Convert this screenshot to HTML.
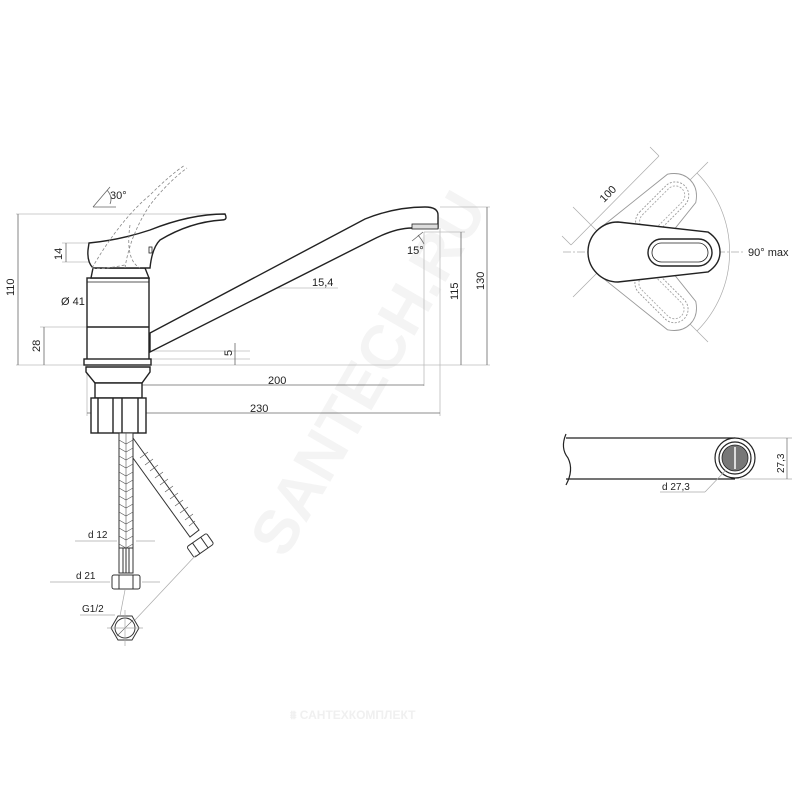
<!DOCTYPE html>
<html><head><meta charset="utf-8"><style>html,body{margin:0;padding:0;background:#fff}svg{display:block}</style></head>
<body>
<svg width="800" height="800" viewBox="0 0 800 800" xmlns="http://www.w3.org/2000/svg" font-family="Liberation Sans, sans-serif">
<defs>
<path id="lev" d="M618 222 L708 232 Q720 240 720 252 Q720 264 708 272 L618 282 A30 30 0 0 1 618 222 Z"/>
</defs>
<text x="0" y="0" font-size="62" font-weight="bold" fill="#f4f4f4" transform="translate(285,560) rotate(-60)">SANTECH.RU</text>
<text x="290" y="719" font-size="12" font-weight="bold" fill="#f0f0f0" font-family="Liberation Sans, DejaVu Sans, sans-serif">⩩ САНТЕХКОМПЛЕКТ</text>

<g fill="none" stroke="#bbb" stroke-width="0.8">
<line x1="16" y1="214" x2="225" y2="214"/>
<line x1="16" y1="365" x2="490" y2="365"/>
<line x1="440" y1="207" x2="490" y2="207"/>
<line x1="424" y1="232" x2="465" y2="232"/>
<line x1="424" y1="232" x2="424" y2="386"/>
<line x1="440" y1="228" x2="440" y2="416"/>
<line x1="87" y1="365" x2="87" y2="416"/>
<line x1="118" y1="367" x2="118" y2="390"/>
<line x1="40" y1="327" x2="90" y2="327"/>
<line x1="150" y1="351" x2="250" y2="351"/>
<line x1="150" y1="359" x2="250" y2="359"/>
<line x1="62" y1="243" x2="90" y2="243"/>
<line x1="62" y1="262" x2="90" y2="262"/>
<line x1="266" y1="288" x2="338" y2="288"/>
</g>
<g stroke="#666" stroke-width="0.8" fill="none">
<line x1="18" y1="214" x2="18" y2="365"/>
<line x1="487" y1="207" x2="487" y2="365"/>
<line x1="461" y1="232" x2="461" y2="365"/>
<line x1="44" y1="327" x2="44" y2="365"/>
<line x1="66" y1="243" x2="66" y2="262"/>
<line x1="88" y1="305" x2="148" y2="305"/>
<line x1="235" y1="343" x2="235" y2="365"/>
<line x1="125" y1="385" x2="424" y2="385"/>
<line x1="87" y1="413" x2="440" y2="413"/>
<line x1="258" y1="280" x2="264" y2="293"/>
</g>
<g font-size="11" fill="#222">
<text x="0" y="0" transform="translate(14,296) rotate(-90)">110</text>
<text x="0" y="0" transform="translate(40,352) rotate(-90)">28</text>
<text x="0" y="0" transform="translate(62,260) rotate(-90)">14</text>
<text x="0" y="0" transform="translate(232,356) rotate(-90)">5</text>
<text x="0" y="0" transform="translate(458,300) rotate(-90)">115</text>
<text x="0" y="0" transform="translate(484,290) rotate(-90)">130</text>
<text x="61" y="305">Ø 41</text>
<text x="312" y="286">15,4</text>
<text x="268" y="384">200</text>
<text x="250" y="412">230</text>
<text x="407" y="254">15°</text>
<text x="110" y="199">30°</text>
</g>
<g stroke="#666" stroke-width="0.8" fill="none">
<path d="M93 207 L110 187 M93 207 L116 207 M107 190 Q113 197 110 204"/>
<path d="M423 232 L412 241 M418 235 Q422 240 424 244"/>
</g>
<g stroke="#222" stroke-width="1.4" fill="#fff">
<path d="M150 333 L365 219 Q395 207 425 207 Q438 207 438 215 L438 228 L412 228 Q395 228 372 240 L150 352 Z"/>
<rect x="412" y="224" width="26" height="5" fill="#ddd" stroke-width="0.8"/>
<rect x="87" y="278" width="62" height="82"/>
<line x1="87" y1="327" x2="149" y2="327"/>
<line x1="87" y1="282" x2="149" y2="282" stroke-width="0.8"/>
<rect x="84" y="359" width="67" height="6"/>
<path d="M86 367 L150 367 L150 372 L142 383 L95 383 L86 372 Z"/>
<rect x="95" y="383" width="47" height="15"/>
<rect x="91" y="398" width="55" height="35"/>
<path d="M98 398 V433 M113 398 V433 M122 398 V433 M138 398 V433" fill="none"/>
<path d="M91 278 L93 268 L145 268 L149 278 Z"/>
<path d="M89 243 Q120 240 150 230 Q190 214 225 214 Q228 220 222 220 Q190 222 160 240 Q152 248 150 268 L93 268 Q87 262 88 250 Z"/>
<rect x="149" y="247" width="3" height="6" stroke-width="0.8"/>
</g>
<g stroke="#888" stroke-width="0.8" fill="none" stroke-dasharray="3,2">
<path d="M92 268 Q120 220 150 195 Q170 175 185 165"/>
<path d="M125 268 Q130 235 150 205 Q168 182 187 168"/>
<path d="M130 225 Q125 260 140 268"/>
<path d="M92 268 Q100 270 125 265"/>
</g>
<g stroke="#333" stroke-width="1" fill="#fff">
<rect x="119" y="433" width="14" height="115"/>
<path d="M119 548 h14 v25 h-14 z"/>
<path d="M123 548 v25 M126 548 v25 M129 548 v25" fill="none"/>
<path d="M133 438 L199 530 L190 537 L133 458 Z"/>
<rect x="112" y="575" width="28" height="14" rx="2"/>
<path d="M119 575 v14 M133 575 v14" fill="none"/>
<g transform="translate(200,545) rotate(-35)"><rect x="-12" y="-6" width="24" height="13" rx="2"/><path d="M-5 -6 v13 M5 -6 v13" fill="none"/></g>
<path d="M111 628 l7 -12 h14 l7 12 l-7 12 h-14 z"/>
<circle cx="125" cy="628" r="10"/>
</g>
<g stroke="#555" stroke-width="0.6" fill="none">
<path d="M119 440 l7 4 l7 -4 M119 448 l7 4 l7 -4 M119 456 l7 4 l7 -4 M119 464 l7 4 l7 -4 M119 472 l7 4 l7 -4 M119 480 l7 4 l7 -4 M119 488 l7 4 l7 -4 M119 496 l7 4 l7 -4 M119 504 l7 4 l7 -4 M119 512 l7 4 l7 -4 M119 520 l7 4 l7 -4 M119 528 l7 4 l7 -4 M119 536 l7 4 l7 -4 M119 544 l7 4 l7 -4"/>
<line x1="126" y1="433" x2="126" y2="548"/>
<path d="M140 458 l8 -6 M145 465 l8 -6 M150 471 l8 -6 M155 478 l8 -6 M160 485 l8 -6 M165 492 l8 -6 M170 499 l8 -6 M175 506 l8 -6 M180 513 l8 -6 M185 520 l8 -6 M189 526 l6 -5"/>
<line x1="117" y1="636" x2="133" y2="620"/>
</g>
<g stroke="#aaa" stroke-width="0.7" fill="none">
<line x1="75" y1="541" x2="117" y2="541"/><line x1="136" y1="541" x2="155" y2="541"/>
<line x1="50" y1="582" x2="110" y2="582"/><line x1="142" y1="582" x2="160" y2="582"/>
<line x1="80" y1="615" x2="115" y2="615"/>
<line x1="125" y1="590" x2="120" y2="616"/>
<line x1="196" y1="555" x2="135" y2="620"/>
<line x1="125" y1="610" x2="125" y2="646"/><line x1="107" y1="628" x2="143" y2="628"/>
</g>
<g font-size="10" fill="#222"><text x="88" y="538">d 12</text><text x="76" y="579">d 21</text><text x="82" y="612">G1/2</text></g>

<g stroke="#aaa" stroke-width="0.7" fill="none">
<line x1="573" y1="207" x2="663" y2="297"/><line x1="573" y1="297" x2="663" y2="207"/>
<line x1="618" y1="252" x2="708" y2="162"/><line x1="618" y1="252" x2="708" y2="342"/>
<path d="M697 173 A112 112 0 0 1 697 331"/>
<line x1="571" y1="245" x2="659" y2="156"/>
<line x1="571" y1="245" x2="562" y2="236"/><line x1="659" y1="156" x2="650" y2="147"/>
</g>
<g fill="#fff" stroke-width="0.9">
<g transform="rotate(-45 618 252)"><use href="#lev" stroke="#999"/><rect x="648" y="239" width="64" height="27" rx="13.5" stroke="#999" stroke-dasharray="2,1.5"/><rect x="652" y="243" width="56" height="19" rx="9.5" stroke="#aaa" stroke-dasharray="2,1.5"/></g>
<g transform="rotate(45 618 252)"><use href="#lev" stroke="#999"/><rect x="648" y="239" width="64" height="27" rx="13.5" stroke="#999" stroke-dasharray="2,1.5"/><rect x="652" y="243" width="56" height="19" rx="9.5" stroke="#aaa" stroke-dasharray="2,1.5"/></g>
</g>
<line x1="563" y1="252" x2="745" y2="252" stroke="#aaa" stroke-width="0.7" stroke-dasharray="8,2,2,2"/>
<g stroke="#222" stroke-width="1.4" fill="#fff">
<use href="#lev"/>
<rect x="648" y="239" width="64" height="27" rx="13.5"/>
<rect x="652" y="243" width="56" height="19" rx="9.5" stroke-width="0.8"/>
</g>
<g font-size="11" fill="#222">
<text x="0" y="0" transform="translate(604,203) rotate(-45)">100</text>
<text x="748" y="256">90° max</text>
</g>

<g stroke="#222" stroke-width="1.2" fill="none">
<line x1="566" y1="438" x2="735" y2="438"/>
<line x1="566" y1="479" x2="735" y2="479"/>
<path d="M566 434 Q560 448 568 458 Q574 470 566 485"/>
<circle cx="735" cy="458" r="20" fill="#fff"/>
<circle cx="735" cy="458" r="16"/>
<circle cx="735" cy="458" r="13" fill="#777" stroke-width="0.8"/>
<line x1="735" y1="447" x2="735" y2="469" stroke="#fff" stroke-width="1.5"/>
</g>
<g stroke="#aaa" stroke-width="0.7" fill="none">
<line x1="740" y1="438" x2="792" y2="438"/><line x1="740" y1="479" x2="792" y2="479"/>
<line x1="787" y1="438" x2="787" y2="479" stroke="#666"/>
<line x1="726" y1="470" x2="705" y2="492"/><line x1="660" y1="492" x2="705" y2="492"/>
</g>
<g font-size="10" fill="#222"><text x="0" y="0" transform="translate(784,473) rotate(-90)">27,3</text><text x="662" y="490">d 27,3</text></g>
</svg>
</body></html>
